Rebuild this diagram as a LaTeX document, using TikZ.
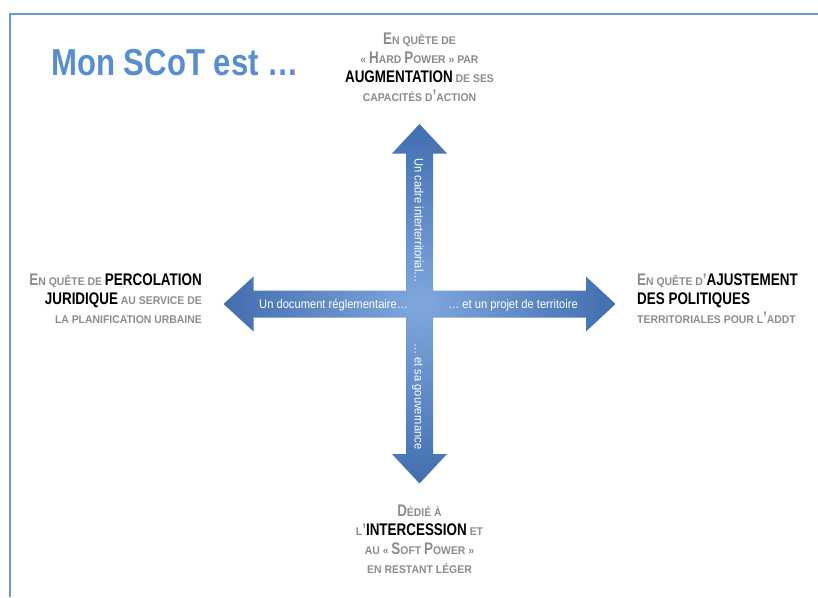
\documentclass[tikz,border=0pt]{standalone}
\usepackage{fontspec}
\setmainfont{Liberation Sans}
\newfontfamily\titlefont[FakeStretch=0.83]{Liberation Sans Bold}
\newfontfamily\capsfont[FakeStretch=0.8]{Liberation Sans Bold}
\newfontfamily\scfont[FakeStretch=0.93]{Liberation Sans Bold}
\newfontfamily\arrowfont[FakeStretch=0.9]{Liberation Sans}
\definecolor{titleblue}{RGB}{87,142,210}
\definecolor{framebl}{RGB}{102,152,206}
\definecolor{greytxt}{RGB}{140,140,140}
\definecolor{arrowlight}{RGB}{128,168,222}
\definecolor{arrowdark}{RGB}{66,110,175}
\pgfdeclareradialshading{crossshade}{\pgfpoint{0bp}{0bp}}{color(0bp)=(arrowlight); color(25bp)=(arrowdark); color(50bp)=(arrowdark)}
\newcommand\BC{\capsfont\fontsize{16.8}{19}\selectfont}
\newcommand\SC{\scfont\fontsize{11.2}{19}\selectfont}
\newcommand\SCap[2]{{\BC #1}{\SC #2}}
\newcommand\KW[1]{{\BC\color{black}#1}}
\tikzset{
  lab/.style={inner sep=0pt, text=greytxt, font=\SC},
  arrowtext/.style={inner sep=0pt, text=white, font=\arrowfont\fontsize{12.4}{14}\selectfont},
  crossarrow/.style={shading=crossshade},
  framestyle/.style={draw=framebl, line width=2pt}
}
\begin{document}
\begin{tikzpicture}[x=1pt,y=-1pt]
\useasboundingbox (0,0) rectangle (818,597);
\draw[framestyle] (9.5,597) -- (9.5,14) -- (818,14);
\node[anchor=base west, inner sep=0pt, text=titleblue, font=\titlefont\fontsize{37.5}{40}\selectfont] (title) at (51,75.5) {Mon SCoT est …};
% cross of arrows
\shade[crossarrow] (406,153.5) -- (392,153.5) -- (419.5,124) -- (447,153.5) -- (433,153.5) -- (433,290.5) -- (586,290.5) -- (586,276.5) -- (615.5,304) -- (586,331.5) -- (586,317.5) -- (433,317.5) -- (433,454) -- (447,454) -- (419.5,483.5) -- (392,454) -- (406,454) -- (406,317.5) -- (253.5,317.5) -- (253.5,331.5) -- (223.5,304) -- (253.5,276.5) -- (253.5,290.5) -- (406,290.5) -- cycle;
\node[arrowtext, anchor=base west] (tl) at (259,308.5) {Un document réglementaire…};
\node[arrowtext, anchor=base west] (tr) at (448,308.5) {… et un projet de territoire};
\node[arrowtext, anchor=base west, rotate=-90] (tu) at (414.5,158) {Un cadre interterritorial…};
\node[arrowtext, anchor=base west, rotate=-90] (td) at (414.5,343) {… et sa gouvernance};
% labels (base anchor = baseline of the last line)
\node[lab, align=center, anchor=base] (top) at (419.5,101) {\SCap{E}{N QUÊTE DE}\\ {\SC «}~\SCap{H}{ARD}~\SCap{P}{OWER}~{\SC »~PAR}\\ \KW{AUGMENTATION} DE SES\\ CAPACITÉS D{\BC ’}ACTION};
\node[lab, align=right, anchor=base east] (left) at (202,323.5) {\SCap{E}{N QUÊTE DE} \KW{PERCOLATION}\\ \KW{JURIDIQUE} AU SERVICE DE\\ LA PLANIFICATION URBAINE};
\node[lab, align=left, anchor=base west] (right) at (637,323.5) {\SCap{E}{N QUÊTE D}{\BC ’}\KW{AJUSTEMENT}\\ \KW{DES POLITIQUES}\\ TERRITORIALES POUR L{\BC ’}ADDT};
\node[lab, align=center, anchor=base] (bottom) at (419.5,573) {\SCap{D}{ÉDIÉ À}\\ L{\BC ’}\KW{INTERCESSION} ET\\ AU «~\SCap{S}{OFT}~\SCap{P}{OWER}~»\\ EN RESTANT LÉGER};
\end{tikzpicture}
\end{document}
